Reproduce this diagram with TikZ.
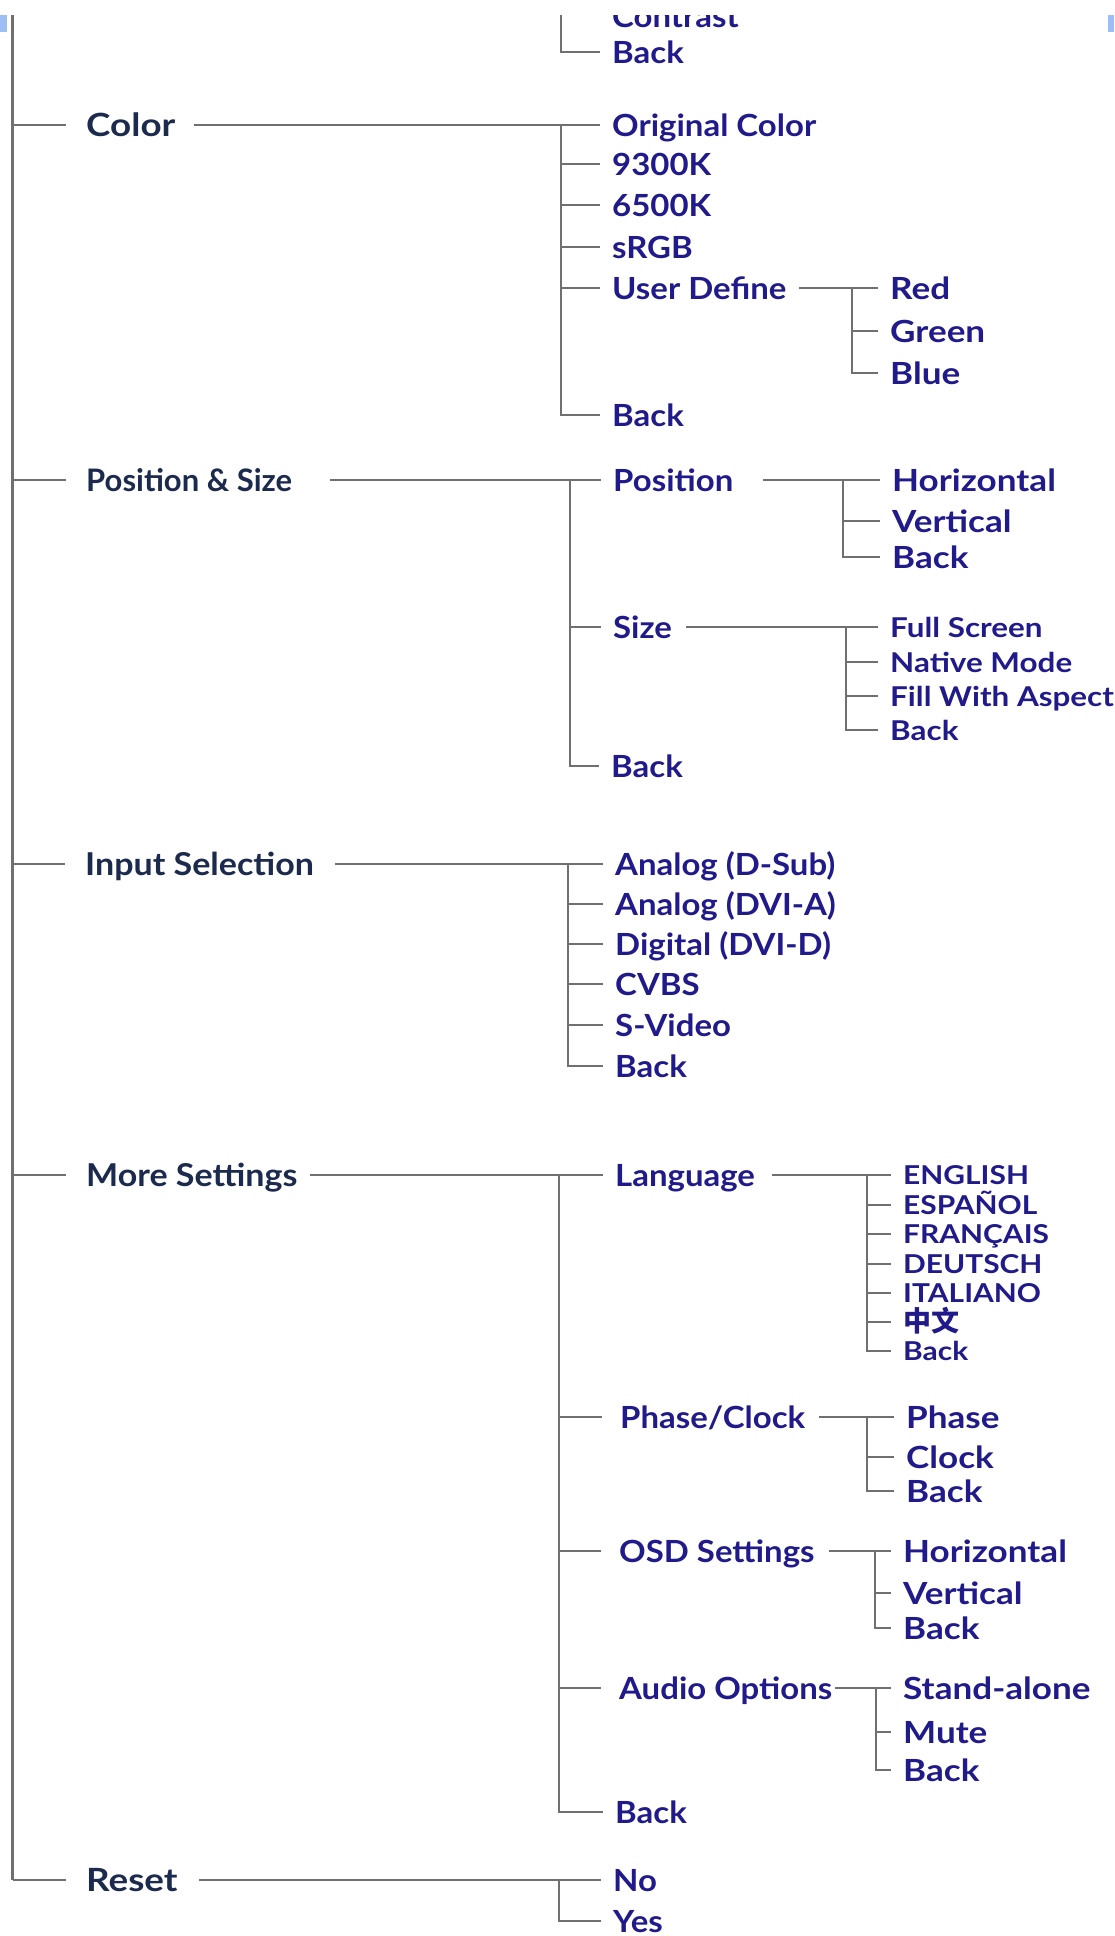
\documentclass[tikz,border=0pt]{standalone}
\usepackage{fontspec}
\newfontfamily\menufont{Lato}[FakeStretch=1.15]
\newfontfamily\menufontm{Lato}[FakeStretch=1.08]
\newfontfamily\menufontn{Lato}
\newfontfamily\cjkfont{Noto Sans CJK SC}
\definecolor{topc}{RGB}{28,42,78}
\definecolor{subc}{RGB}{32,26,138}
\definecolor{linec}{RGB}{112,112,112}
\definecolor{markc}{RGB}{157,190,245}
\tikzset{
  base/.style={anchor=west, inner xsep=12pt, inner ysep=0pt, text depth=0pt},
  topn/.style={base, text=topc, text height=23pt, font=\menufontm\bfseries\fontsize{31.5}{38}\selectfont},
  topw/.style={topn, font=\menufont\bfseries\fontsize{32}{38}\selectfont},
  subn/.style={base, text=subc, text height=22pt, font=\menufontm\bfseries\fontsize{30.5}{36}\selectfont},
  leafn/.style={base, text=subc, text height=22pt, font=\menufont\bfseries\fontsize{30.5}{36}\selectfont},
  smalln/.style={base, text=subc, text height=20pt, font=\menufont\bfseries\fontsize{27.3}{33}\selectfont},
  langn/.style={base, text=subc, text height=19pt, font=\menufont\bfseries\fontsize{26}{31}\selectfont},
  ln/.style={draw=linec, line width=2pt},
  mainln/.style={draw=linec, line width=2.5pt}
}
\begin{document}
\begin{tikzpicture}[x=1pt,y=-1pt]
\useasboundingbox (0,0) rectangle (1114,1936);
\fill[markc] (0,15) rectangle (7,32);
\fill[markc] (1108,15) rectangle (1114,32);
\begin{scope}
\clip (0,15) rectangle (1114,1936);
% main trunk
\coordinate (mtop) at (12.5,15);
% Contrast remainder
\coordinate (kb) at (561,15);
\node[subn] (contrast) at (600,16) {Contrast};
\node[subn] (kback) at (600,52) {Back};
\draw[ln] (kb) -- (kb |- kback.west) -- (kback.west);

% Color
\node[topw] (color) at (74,125) {Color};
\coordinate (cb) at (561,125);
\node[subn] (co1) at (600,125) {Original Color};
\node[subn] (co2) at (600,164) {9300K};
\node[subn] (co3) at (600,205) {6500K};
\node[subn] (co4) at (600,247) {sRGB};
\node[subn] (co5) at (600,288) {User Define};
\node[subn] (co6) at (600,415) {Back};
\draw[ln] ([xshift=6pt]color.east) -- (co1.west);
\draw[ln] (cb) -- (cb |- co6.west) -- (co6.west);
\foreach \n in {co2,co3,co4,co5} \draw[ln] (cb |- \n.west) -- (\n.west);
\coordinate (ub) at (852,288);
\node[leafn] (red) at (878,288) {Red};
\node[leafn] (green) at (878,331) {Green};
\node[leafn] (blue) at (878,373) {Blue};
\draw[ln] ([xshift=0pt]co5.east) -- (red.west);
\draw[ln] (ub) -- (ub |- blue.west) -- (blue.west);
\draw[ln] (ub |- green.west) -- (green.west);

% Position & Size
\node[topn, font=\menufontn\bfseries\fontsize{31}{38}\selectfont] (ps) at (74,480) {Position \& Size};
\coordinate (pb) at (570,480);
\node[subn] (ps1) at (601,480) {Position};
\node[subn] (ps2) at (601,627) {Size};
\node[subn] (ps3) at (599,766) {Back};
\draw[ln] ([xshift=26pt]ps.east) -- (ps1.west);
\draw[ln] (pb) -- (pb |- ps3.west) -- (ps3.west);
\draw[ln] (pb |- ps2.west) -- (ps2.west);
\coordinate (pob) at (843,480);
\node[leafn] (po1) at (880,480) {Horizontal};
\node[leafn] (po2) at (880,521) {Vertical};
\node[leafn] (po3) at (880,557) {Back};
\draw[ln] ([xshift=18pt]ps1.east) -- (po1.west);
\draw[ln] (pob) -- (pob |- po3.west) -- (po3.west);
\draw[ln] (pob |- po2.west) -- (po2.west);
\coordinate (sb) at (846,627);
\node[smalln] (sz1) at (878,627) {Full Screen};
\node[smalln] (sz2) at (878,662) {Native Mode};
\node[smalln] (sz3) at (878,696) {Fill With Aspect};
\node[smalln] (sz4) at (878,730) {Back};
\draw[ln] ([xshift=2pt]ps2.east) -- (sz1.west);
\draw[ln] (sb) -- (sb |- sz4.west) -- (sz4.west);
\foreach \n in {sz2,sz3} \draw[ln] (sb |- \n.west) -- (\n.west);

% Input Selection
\node[topn] (is) at (73,864) {Input Selection};
\coordinate (ib) at (568,864);
\node[subn] (is1) at (603,864) {Analog (D-Sub)};
\node[subn] (is2) at (603,904) {Analog (DVI-A)};
\node[subn] (is3) at (603,944) {Digital (DVI-D)};
\node[subn] (is4) at (603,984) {CVBS};
\node[subn] (is5) at (603,1025) {S-Video};
\node[subn] (is6) at (603,1066) {Back};
\draw[ln] ([xshift=9pt]is.east) -- (is1.west);
\draw[ln] (ib) -- (ib |- is6.west) -- (is6.west);
\foreach \n in {is2,is3,is4,is5} \draw[ln] (ib |- \n.west) -- (\n.west);

% More Settings
\node[topn] (ms) at (74,1175) {More Settings};
\coordinate (mb) at (559,1175);
\node[subn] (ms1) at (603,1175) {Language};
\node[subn] (ms2) at (608,1417) {Phase/Clock};
\node[subn] (ms3) at (607,1551) {OSD Settings};
\node[subn] (ms4) at (607,1688) {Audio Options};
\node[subn] (ms5) at (603,1812) {Back};
\draw[ln] ([xshift=0pt]ms.east) -- (ms1.west);
\draw[ln] (mb) -- (mb |- ms5.west) -- (ms5.west);
\foreach \n in {ms2,ms3,ms4} \draw[ln] (mb |- \n.west) -- ([xshift=-6pt]\n.west);
% Language
\coordinate (lb) at (867,1175);
\node[langn] (la1) at (891,1175) {ENGLISH};
\node[langn] (la2) at (891,1205) {ESPAÑOL};
\node[langn] (la3) at (891,1234) {FRANÇAIS};
\node[langn] (la4) at (891,1264) {DEUTSCH};
\node[langn] (la5) at (891,1293) {ITALIANO};
\node[langn, font=\cjkfont\bfseries\fontsize{28}{32}\selectfont] (la6) at (891,1322) {中文};
\node[langn] (la7) at (891,1351) {Back};
\draw[ln] ([xshift=5pt]ms1.east) -- (la1.west);
\draw[ln] (lb) -- (lb |- la7.west) -- (la7.west);
\foreach \n in {la2,la3,la4,la5,la6} \draw[ln] (lb |- \n.west) -- (\n.west);
% Phase/Clock
\coordinate (phb) at (867,1417);
\node[leafn] (ph1) at (894,1417) {Phase};
\node[leafn] (ph2) at (894,1457) {Clock};
\node[leafn] (ph3) at (894,1491) {Back};
\draw[ln] ([xshift=2pt]ms2.east) -- (ph1.west);
\draw[ln] (phb) -- (phb |- ph3.west) -- (ph3.west);
\draw[ln] (phb |- ph2.west) -- (ph2.west);
% OSD Settings
\coordinate (ob) at (875,1551);
\node[leafn] (os1) at (891,1551) {Horizontal};
\node[leafn] (os2) at (891,1593) {Vertical};
\node[leafn] (os3) at (891,1628) {Back};
\draw[ln] ([xshift=2pt]ms3.east) -- (os1.west);
\draw[ln] (ob) -- (ob |- os3.west) -- (os3.west);
\draw[ln] (ob |- os2.west) -- (os2.west);
% Audio Options
\coordinate (ab) at (876,1688);
\node[leafn] (au1) at (891,1688) {Stand-alone};
\node[leafn] (au2) at (891,1732) {Mute};
\node[leafn] (au3) at (891,1770) {Back};
\draw[ln] ([xshift=-9pt]ms4.east) -- (au1.west);
\draw[ln] (ab) -- (ab |- au3.west) -- (au3.west);
\draw[ln] (ab |- au2.west) -- (au2.west);

% Reset
\node[topw] (rs) at (74,1880) {Reset};
\coordinate (rb) at (559,1880);
\node[subn] (rs1) at (601,1880) {No};
\node[subn] (rs2) at (601,1921) {Yes};
\draw[ln] ([xshift=9pt]rs.east) -- (rs1.west);
\draw[ln] (rb) -- (rb |- rs2.west) -- (rs2.west);

% trunk and top-level ticks
\draw[mainln] (mtop) -- (mtop |- rs.west);
\foreach \n in {color,ps,is,ms,rs} \draw[ln] (mtop |- \n.west) -- ([xshift=-8pt]\n.west);
\end{scope}
\end{tikzpicture}
\end{document}
